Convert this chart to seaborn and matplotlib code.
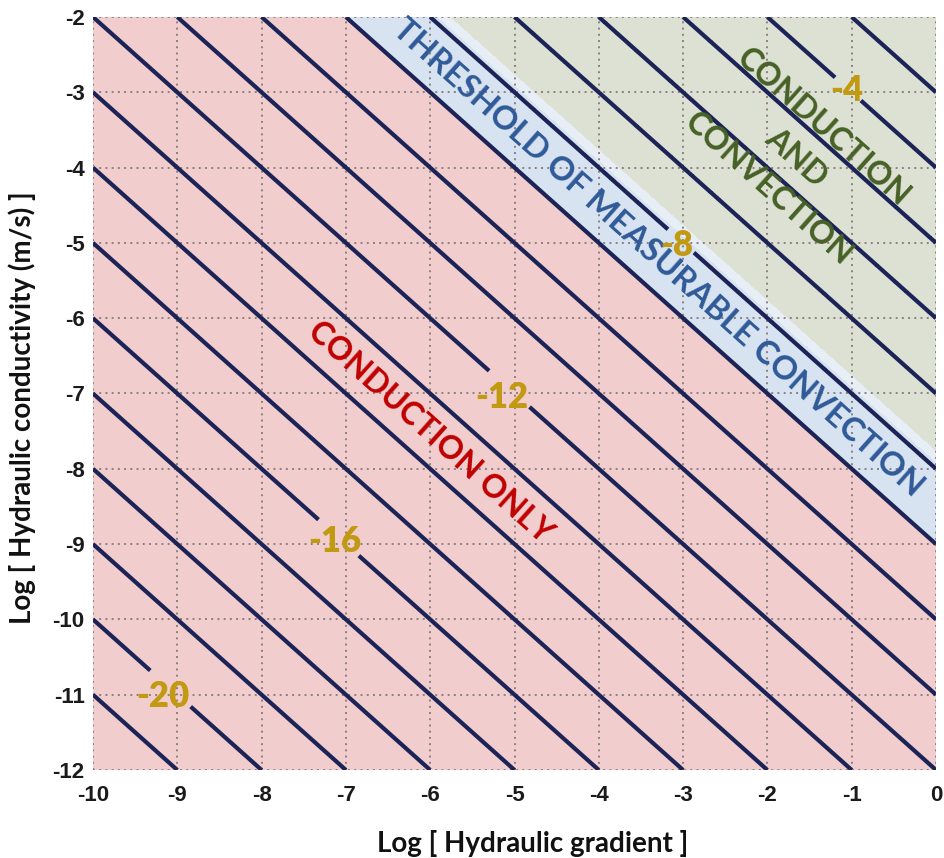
import numpy as np
import pandas as pd
import seaborn as sns
import matplotlib
matplotlib.use("Agg")
import matplotlib.pyplot as plt
from matplotlib import font_manager
from matplotlib.font_manager import FontProperties

# ---- data ----
x_ticks = [-10, -9, -8, -7, -6, -5, -4, -3, -2, -1, 0]
y_ticks = [-12, -11, -10, -9, -8, -7, -6, -5, -4, -3, -2]
line_levels = list(range(-21, -2))          # log(q) iso-lines, every integer
label_levels = [-20, -16, -12, -8, -4]
label_positions = [(-9.17, -11.03), (-7.13, -8.97), (-5.15, -7.05), (-3.07, -5.03), (-1.055, -2.97)]
region_bounds = [-23, -9, -7.9, -7.75, -1]  # conduction only | threshold | edge | conduction+convection
region_colors = ["#F2CDCD", "#D7E3F0", "#E8EEF5", "#DDE1D4"]

sns.set_theme(style="white")
plt.rcParams["axes.unicode_minus"] = False

avail = {f.name for f in font_manager.fontManager.ttflist}

def fam(*names):
    out = [n for n in names if n in avail]
    return out if out else ["DejaVu Sans"]

label_font = fam("Lato", "Open Sans", "DejaVu Sans")
if "Liberation Sans Narrow" in avail:
    tick_font, tick_size = ["Liberation Sans Narrow"], 17.5
else:
    tick_font, tick_size = fam("Liberation Sans", "DejaVu Sans"), 16
plt.rcParams["font.family"] = tick_font

fig = plt.figure(figsize=(9.44, 8.58), dpi=100)
ax = fig.add_axes([93/944, 1 - 770/858, (936 - 93)/944, (770 - 17)/858])

gx = np.linspace(-10, 0, 401)
gy = np.linspace(-12, -2, 401)
X, Y = np.meshgrid(gx, gy)
Z = X + Y

ax.contourf(X, Y, Z, levels=region_bounds, colors=region_colors, zorder=0)

ax.set_xlim(-10, 0)
ax.set_ylim(-12, -2)
tick_fp = FontProperties(family=tick_font, weight="bold", size=tick_size)
ax.set_xticks(x_ticks)
ax.set_xticklabels([str(v) for v in x_ticks], fontproperties=tick_fp, color="#1a1a1a")
ax.set_yticks(y_ticks)
ax.set_yticklabels([str(v) for v in y_ticks], fontproperties=tick_fp, color="#1a1a1a")
ax.grid(True, color="#8a8080", linestyle=(0, (1, 2.2)), linewidth=1.4, zorder=1)
ax.set_axisbelow(False)
for s in ax.spines.values():
    s.set_visible(False)
ax.tick_params(axis="x", length=0, pad=11)
ax.tick_params(axis="y", length=0, pad=6)

plain_levels = [v for v in line_levels if v not in label_levels]
ax.contour(X, Y, Z, levels=plain_levels, colors="#1B2357", linewidths=3.0,
           linestyles="solid", zorder=3)
cs = ax.contour(X, Y, Z, levels=label_levels, colors="#1B2357", linewidths=3.0,
                linestyles="solid", zorder=3)
# clabel only cuts the gaps in the lines; the visible labels are drawn below
lbls = ax.clabel(cs, manual=label_positions, inline=True, inline_spacing=2,
                 fmt="%d", fontsize=25)
for t in lbls:
    t.set_visible(False)
for lev, (lx, ly) in zip(label_levels, label_positions):
    ax.text(lx, ly, str(lev), ha="center", va="center", fontsize=25,
            fontweight="heavy", fontfamily=label_font, color="#C29A12", zorder=5)

ax.set_xlabel("Log [ Hydraulic gradient ]", fontsize=20, fontweight="bold",
              fontfamily=label_font, color="#111111", va="center")
ax.set_ylabel("Log [ Hydraulic conductivity (m/s) ]", fontsize=20, fontweight="bold",
              fontfamily=label_font, color="#111111", va="center")
ax.xaxis.set_label_coords(0.522, -0.097)
ax.yaxis.set_label_coords(-0.084, 0.481)

# rotation angle of the iso-lines in display space
p0 = ax.transData.transform((0, 0))
p1 = ax.transData.transform((1, -1))
ang = np.degrees(np.arctan2(p1[1] - p0[1], p1[0] - p0[0]))

ax.text(-3.30, -5.20, "THRESHOLD OF MEASURABLE CONVECTION", rotation=ang,
        rotation_mode="anchor", ha="center", va="center", fontsize=23.6,
        fontweight="bold", color="#2F5A98", fontfamily=label_font, zorder=4)
ax.text(-6.0, -7.51, "CONDUCTION ONLY", rotation=ang, rotation_mode="anchor",
        ha="center", va="center", fontsize=23, fontweight="bold",
        color="#C00000", fontfamily=label_font, zorder=4)
ax.text(-1.66, -3.87, "CONDUCTION\nAND\nCONVECTION", rotation=ang, rotation_mode="anchor",
        ha="center", va="center", multialignment="center", linespacing=1.52,
        fontsize=23, fontweight="bold", color="#466126", fontfamily=label_font, zorder=4)

fig.savefig("out.png", dpi=100)
